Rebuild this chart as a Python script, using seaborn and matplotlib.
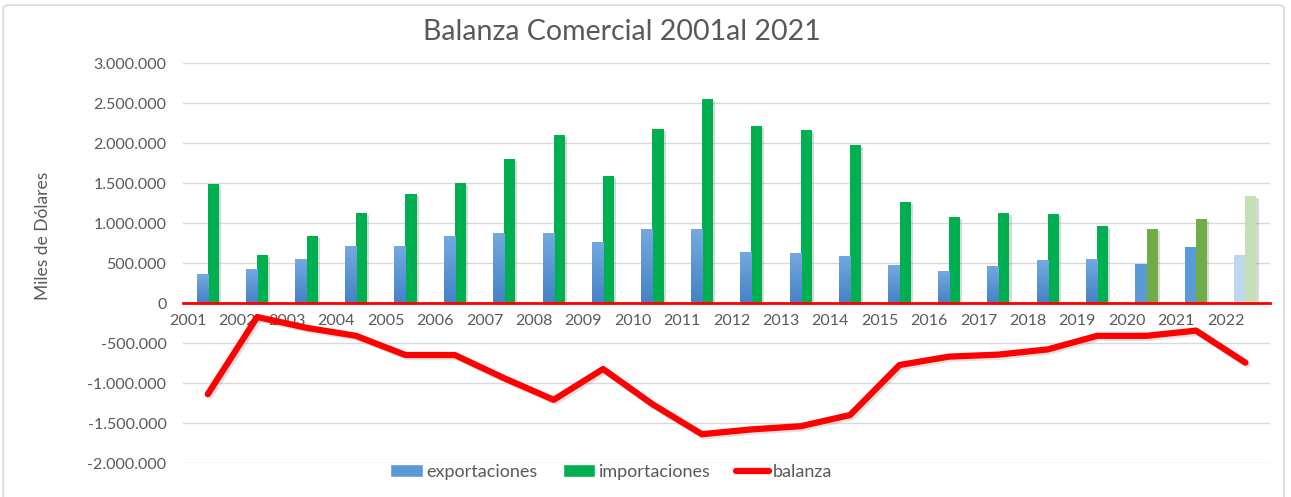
import numpy as np
import pandas as pd
import matplotlib
matplotlib.use("Agg")
import matplotlib.pyplot as plt
import matplotlib.patheffects as pe
from matplotlib.patches import Patch, FancyBboxPatch
from matplotlib.lines import Line2D
from matplotlib.ticker import FuncFormatter, MultipleLocator
from matplotlib.colors import LinearSegmentedColormap
import seaborn as sns

# ---------------- data ----------------
years = [str(y) for y in range(2001, 2023)]
exportaciones = [360000, 425000, 546000, 709000, 709000, 834000, 875000, 875000,
                 762000, 921000, 921000, 633000, 621000, 588000, 475000, 400000,
                 463000, 533000, 546000, 492000, 700000, 600000]
importaciones = [1484000, 600000, 834000, 1129000, 1363000, 1496000, 1800000, 2100000,
                 1592000, 2175000, 2550000, 2217000, 2162000, 1975000, 1258000, 1071000,
                 1125000, 1117000, 962000, 921000, 1050000, 1337000]
balanza = [-1140000, -175000, -310000, -410000, -650000, -650000, -940000, -1210000,
           -825000, -1265000, -1640000, -1580000, -1540000, -1400000, -775000, -670000,
           -645000, -580000, -410000, -410000, -345000, -745000]

# ---------------- style ----------------
sns.set_theme(style="white")
plt.rcParams['font.family'] = ['Lato', 'DejaVu Sans']
TEXT = '#595959'
C_EXP = '#5B9BD5'
C_IMP = '#00B050'
special_exp = {19: '#5B9BD5', 20: '#5B9BD5', 21: '#BDD7EE'}
special_imp = {19: '#70AD47', 20: '#70AD47', 21: '#C5E0B4'}

fig = plt.figure(figsize=(12.91, 4.97), dpi=100)
ax = fig.add_axes([0.1418, 0.0684, 0.8420, 0.8048])

df = pd.DataFrame({
    'year': years * 2,
    'valor': exportaciones + importaciones,
    'serie': ['exportaciones'] * len(years) + ['importaciones'] * len(years),
})
sns.barplot(data=df, x='year', y='valor', hue='serie',
            palette={'exportaciones': C_EXP, 'importaciones': C_IMP},
            width=0.45, saturation=1, linewidth=0, edgecolor='none',
            legend=False, ax=ax, zorder=2)

shadow = [pe.SimplePatchShadow(offset=(1.5, -1.5), shadow_rgbFace='#7f7f7f', alpha=0.3), pe.Normal()]
grad = LinearSegmentedColormap.from_list('g', ['#4483C7', '#73A9DF'])
exp_bars, imp_bars = ax.containers[0], ax.containers[1]
for i, p in enumerate(exp_bars):
    p.set_path_effects(shadow)
    if i in special_exp:
        p.set_facecolor(special_exp[i])
    else:
        x0, w, h = p.get_x(), p.get_width(), p.get_height()
        im = ax.imshow(np.linspace(0, 1, 64).reshape(-1, 1), extent=[x0, x0 + w, 0, h],
                       origin='lower', aspect='auto', cmap=grad, zorder=2.05)
        im.set_clip_path(p)
for i, p in enumerate(imp_bars):
    p.set_path_effects(shadow)
    if i in special_imp:
        p.set_facecolor(special_imp[i])

sns.lineplot(x=np.arange(len(years)), y=balanza, color='#FF0000', linewidth=4.5,
             ax=ax, zorder=6)
ln = ax.lines[-1]
ln.set_solid_joinstyle('round')
ln.set_solid_capstyle('round')
ln.set_path_effects([pe.SimpleLineShadow(offset=(1.5, -1.5), shadow_color='#777777', alpha=0.22), pe.Normal()])

ax.set_xlim(-0.5, len(years) - 0.5)
ax.set_ylim(-2000000, 3000000)
ax.yaxis.set_major_locator(MultipleLocator(500000))
ax.yaxis.set_major_formatter(FuncFormatter(lambda v, _: f"{int(round(v)):,}".replace(",", ".")))
ax.set_xticks(np.arange(len(years)) - 0.4)
ax.set_xticklabels(years)

for s in ['top', 'right', 'left']:
    ax.spines[s].set_visible(False)
ax.spines['bottom'].set_position(('data', 0))
ax.spines['bottom'].set_color('#FF0000')
ax.spines['bottom'].set_linewidth(2)
ax.spines['bottom'].set_zorder(5)

ax.tick_params(axis='x', length=0, pad=8, labelsize=11.5, labelcolor=TEXT)
ax.tick_params(axis='y', length=0, pad=12, labelsize=11.5, labelcolor=TEXT)
ax.grid(axis='y', color='#D9D9D9', linewidth=1)
ax.set_axisbelow(True)
ax.set_xlabel('')
ax.set_ylabel('Miles de Dólares', fontsize=12.5, color=TEXT)
ax.yaxis.set_label_coords(-0.1215, 0.5675)

handles = [Patch(facecolor=C_EXP), Patch(facecolor=C_IMP),
           Line2D([0], [0], color='#FF0000', lw=4.5, solid_capstyle='round')]
fig.legend(handles, ['exportaciones', 'importaciones', 'balanza'], loc='center',
           bbox_to_anchor=(611 / 1291, 1 - 472 / 497), ncol=3, frameon=False,
           fontsize=13, handlelength=1.8, handletextpad=0.2, columnspacing=1.4,
           labelcolor=TEXT)

fig.text(622 / 1291, 1 - 32 / 497, 'Balanza Comercial 2001al 2021', ha='center',
         va='center', fontsize=20.5, color=TEXT)

fig.patches.append(FancyBboxPatch((0.0025, -0.02), 0.992, 1.01,
                                  boxstyle='round,pad=0,rounding_size=0.006',
                                  transform=fig.transFigure, fc='none',
                                  ec='#D9D9D9', lw=1.2))

fig.savefig('out.png', dpi=100)
